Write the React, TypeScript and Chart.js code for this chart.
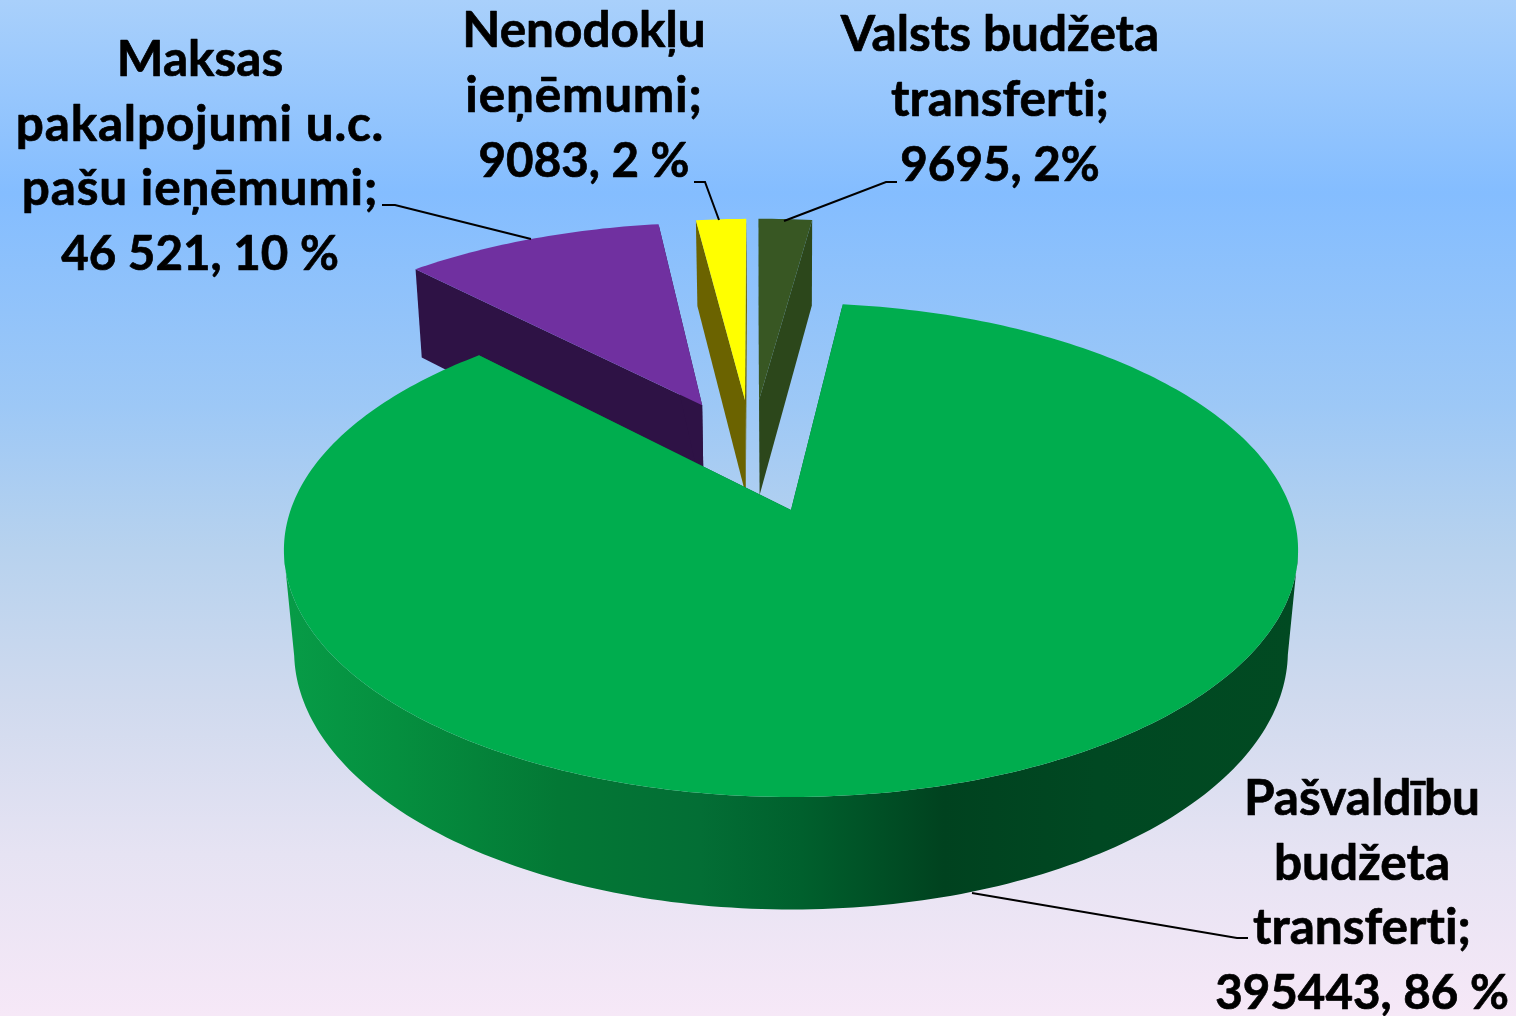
import React, { useEffect, useRef } from "react";
import { Chart, registerables } from "chart.js";

Chart.register(...registerables);

// ---- data ----
const categories = [
  "Pašvaldību budžeta transferti",
  "Maksas pakalpojumi u.c. pašu ieņēmumi",
  "Nenodokļu ieņēmumi",
  "Valsts budžeta transferti",
];
const values = [395443, 46521, 9083, 9695];
const labelPasvaldibu = ["Pašvaldību", "budžeta", "transferti;", "395443, 86 %"];
const labelMaksas = ["Maksas", "pakalpojumi u.c.", "pašu ieņēmumi;", "46 521, 10 %"];
const labelNenodoklu = ["Nenodokļu", "ieņēmumi;", "9083, 2 %"];
const labelValsts = ["Valsts budžeta", "transferti;", "9695, 2%"];

// ---- style ----
const topColors = ["#00AD4E", "#7030A0", "#FFFF00", "#385723"];
const wallColors = ["", "#2E1245", "#6B6300", "#2C471B"];
const ROTATION = 6.9;
// slice explosion on the pie plane, in pie radii
const explode = [
  [0, 0],
  [-0.191, 0.469],
  [-0.0993, 0.494],
  [-0.069, 0.494],
];
const radii = [1, 1.012, 1.012, 1.012];
const WIDTH = 1516;
const HEIGHT = 1016;
const FAMILY = 'Lato, "Noto Sans", sans-serif';

// perspective of the tilted pie
const project = (x: number, y: number, z: number) => {
  const w = 1 + y / 6.175 + 0.02 * z;
  return [791 + (500.4 * x) / w, -975 + (1485 + 132 * z) / w];
};

const textBlocks = [
  { lines: labelMaksas, cx: 200, y: 76, lh: 64.6 },
  { lines: labelNenodoklu, cx: 584, y: 47, lh: 65 },
  { lines: labelValsts, cx: 1000, y: 51, lh: 65 },
  { lines: labelPasvaldibu, cx: 1362, y: 815, lh: 64.7 },
];
const leaders = [
  [[382, 205], [395, 205], [531, 239]],
  [[694, 182], [705, 182], [719, 220]],
  [[897, 182], [886, 182], [784, 221]],
  [[1248, 938], [1237, 938], [972, 893]],
];

const pie3d = {
  id: "pie3d",
  beforeDraw(chart: any) {
    const { ctx } = chart;
    const g = ctx.createLinearGradient(0, 0, 0, HEIGHT);
    g.addColorStop(0, "#A9D0FB");
    g.addColorStop(0.19, "#84BDFF");
    g.addColorStop(0.4, "#9DC8F6");
    g.addColorStop(0.54, "#B7D2EE");
    g.addColorStop(0.69, "#D0DAEE");
    g.addColorStop(0.84, "#E6E3F3");
    g.addColorStop(1, "#F6E8F7");
    ctx.fillStyle = g;
    ctx.fillRect(0, 0, WIDTH, HEIGHT);
  },
  beforeDatasetDraw() {
    return false;
  },
  afterDatasetsDraw(chart: any) {
    const { ctx } = chart;
    const arcs = chart.getDatasetMeta(0).data;
    const greenWall = ctx.createLinearGradient(284, 0, 1299, 0);
    greenWall.addColorStop(0, "#079C47");
    greenWall.addColorStop(0.11, "#058F3F");
    greenWall.addColorStop(0.27, "#037835");
    greenWall.addColorStop(0.41, "#036E35");
    greenWall.addColorStop(0.51, "#00602D");
    greenWall.addColorStop(0.65, "#00421F");
    greenWall.addColorStop(0.8, "#004822");
    greenWall.addColorStop(1, "#014A22");

    const poly = (pts: number[][], fill: any) => {
      ctx.beginPath();
      pts.forEach((p, i) => (i ? ctx.lineTo(p[0], p[1]) : ctx.moveTo(p[0], p[1])));
      ctx.closePath();
      ctx.fillStyle = fill;
      ctx.fill();
    };

    for (const i of [3, 2, 1, 0]) {
      const arc = arcs[i];
      const { startAngle, endAngle } = arc.getProps(["startAngle", "endAngle"], true);
      const [ox, oy] = explode[i];
      const r = radii[i];
      const at = (a: number, z: number) => project(ox + r * Math.cos(a), oy - r * Math.sin(a), z);
      const apex = (z: number) => project(ox, oy, z);
      const wall = i === 0 ? greenWall : wallColors[i];
      const steps = Math.max(2, Math.ceil(((endAngle - startAngle) * 180) / Math.PI));
      const angles: number[] = [];
      for (let s = 0; s <= steps; s++) angles.push(startAngle + ((endAngle - startAngle) * s) / steps);

      // cut faces, then the camera-facing part of the outer wall as one strip
      poly([apex(0), at(startAngle, 0), at(startAngle, 1), apex(1)], wall);
      poly([apex(0), at(endAngle, 0), at(endAngle, 1), apex(1)], wall);
      const front = angles.filter((a) => Math.sin(a) > 0.16);
      if (front.length > 1) {
        poly(
          [...front.map((a) => at(a, 0)), ...front.slice().reverse().map((a) => at(a, 1))],
          wall,
        );
      }
      // top surface
      poly([apex(0), ...angles.map((a) => at(a, 0))], arc.options.backgroundColor);
    }
  },
  afterDraw(chart: any) {
    const { ctx } = chart;
    ctx.save();
    ctx.strokeStyle = "#000";
    ctx.lineWidth = 2;
    for (const l of leaders) {
      ctx.beginPath();
      l.forEach((p, i) => (i ? ctx.lineTo(p[0], p[1]) : ctx.moveTo(p[0], p[1])));
      ctx.stroke();
    }
    ctx.fillStyle = "#000";
    ctx.textAlign = "center";
    ctx.textBaseline = "alphabetic";
    ctx.lineWidth = 0.7;
    ctx.lineJoin = "round";
    for (const b of textBlocks) {
      b.lines.forEach((t, i) => {
        const numeric = /^\d/.test(t);
        const roomy = /umi/.test(t);
        ctx.font = `bold ${numeric ? 47.5 : 49.5}px ${FAMILY}`;
        (ctx as any).letterSpacing = roomy ? "0.8px" : "0.01px";
        ctx.fillText(t, b.cx, b.y + i * b.lh);
        ctx.strokeText(t, b.cx, b.y + i * b.lh);
      });
    }
    ctx.restore();
  },
};

export default function App() {
  const ref = useRef<HTMLCanvasElement>(null);
  useEffect(() => {
    document.body.style.margin = "0";
    const chart = new Chart(ref.current as HTMLCanvasElement, {
      type: "pie",
      data: {
        labels: categories,
        datasets: [{ data: values, backgroundColor: topColors, borderWidth: 0 }],
      },
      options: {
        responsive: false,
        animation: false,
        rotation: ROTATION,
        plugins: { legend: { display: false }, tooltip: { enabled: false } },
      },
      plugins: [pie3d],
    } as any);
    return () => chart.destroy();
  }, []);
  return (
    <canvas
      ref={ref}
      width={WIDTH}
      height={HEIGHT}
      style={{ display: "block", width: WIDTH, height: HEIGHT }}
    />
  );
}
